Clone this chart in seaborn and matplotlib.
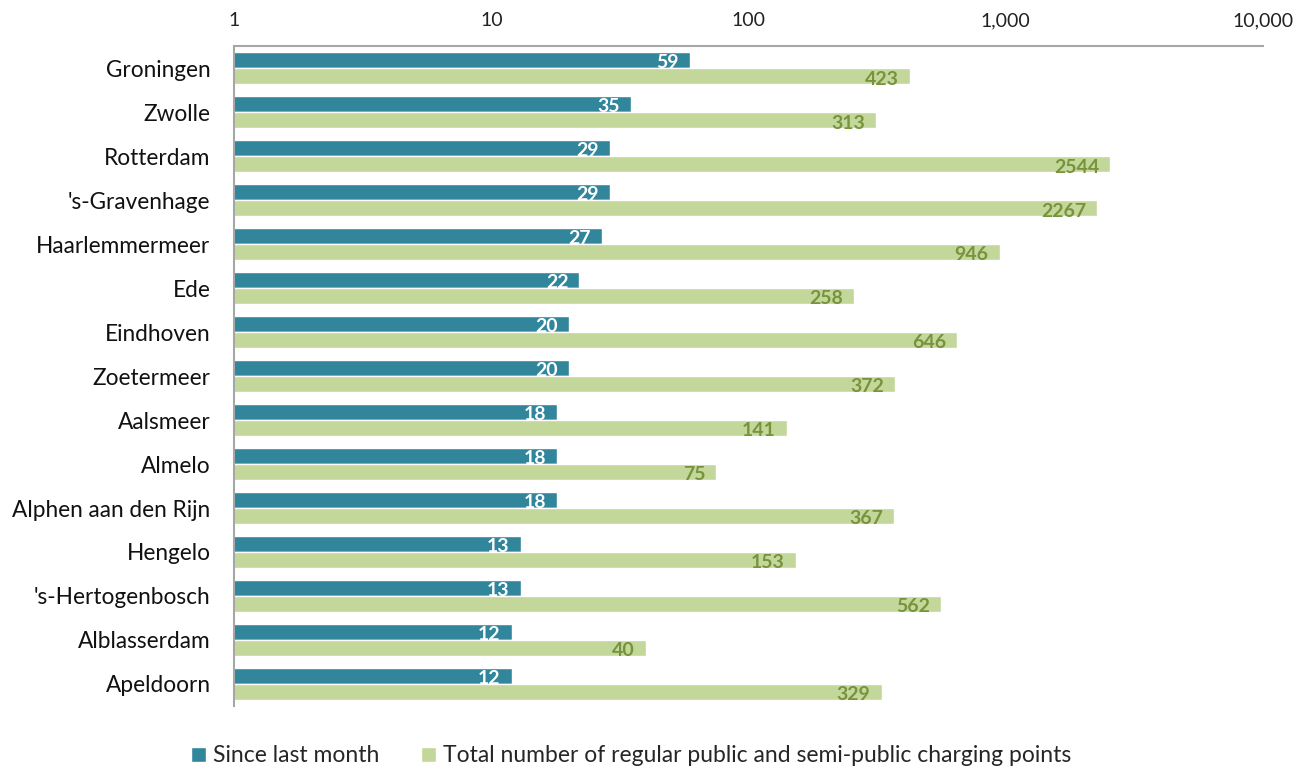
import matplotlib.pyplot as plt
import pandas as pd
import seaborn as sns
from matplotlib.ticker import FixedLocator, FuncFormatter

cities = [
    'Groningen', 'Zwolle', 'Rotterdam', "'s-Gravenhage", 'Haarlemmermeer', 'Ede',
    'Eindhoven', 'Zoetermeer', 'Aalsmeer', 'Almelo', 'Alphen aan den Rijn',
    'Hengelo', "'s-Hertogenbosch", 'Alblasserdam', 'Apeldoorn',
]
since_last_month = [59, 35, 29, 29, 27, 22, 20, 20, 18, 18, 18, 13, 13, 12, 12]
total_points = [423, 313, 2544, 2267, 946, 258, 646, 372, 141, 75, 367, 153, 562, 40, 329]
series = ['Since last month', 'Total number of regular public and semi-public charging points']

df = pd.concat([
    pd.DataFrame({'city': cities, 'value': since_last_month, 'series': series[0]}),
    pd.DataFrame({'city': cities, 'value': total_points, 'series': series[1]}),
])

sns.set_theme(style='white')
plt.rcParams['font.family'] = ['Lato', 'DejaVu Sans']

teal = '#31869B'
green = '#C4D79B'
label_colors = ['white', '#77933C']

fig = plt.figure(figsize=(12.96, 7.69), dpi=100)
ax = fig.add_axes([0.1806, 0.082, 0.794, 0.858])
sns.barplot(
    df, x='value', y='city', hue='series', order=cities, hue_order=series,
    palette=[teal, green], width=0.74, gap=0, orient='h', saturation=1,
    ax=ax,
)
ax.set_xscale('log')
ax.set_xlim(1, 10000)
ax.set_ylim(len(cities) - 0.5, -0.5)
ax.xaxis.tick_top()
ax.xaxis.set_major_locator(FixedLocator([1, 10, 100, 1000, 10000]))
ax.xaxis.set_minor_locator(FixedLocator([]))
ax.xaxis.set_major_formatter(FuncFormatter(lambda x, _: f'{x:,.0f}'))
ax.tick_params(axis='x', length=0, pad=12, labelsize=14, colors='#222222')
ax.tick_params(axis='y', length=0, pad=17, labelsize=16.3, colors='#111111')
ax.set_xlabel('')
ax.set_ylabel('')
for side in ['right', 'bottom']:
    ax.spines[side].set_visible(False)
for side in ['top', 'left']:
    ax.spines[side].set_color('#A6A6A6')
    ax.spines[side].set_linewidth(1.5)

for cont, col in zip(ax.containers, label_colors):
    for bar in cont:
        w = bar.get_width()
        ax.annotate(
            f'{w:.0f}', (w, bar.get_y() + bar.get_height() / 2),
            xytext=(-8, -2), textcoords='offset points', ha='right', va='center',
            color=col, fontweight='bold', fontsize=14,
        )

handles, labels = ax.get_legend_handles_labels()
ax.get_legend().remove()
fig.legend(
    handles, labels, loc='center', bbox_to_anchor=(0.487, 0.017), ncol=2,
    frameon=False, fontsize=16.5, handlelength=0.65, handleheight=0.65,
    handletextpad=0.3, columnspacing=1.8,
)

fig.savefig('out.png', dpi=100)
